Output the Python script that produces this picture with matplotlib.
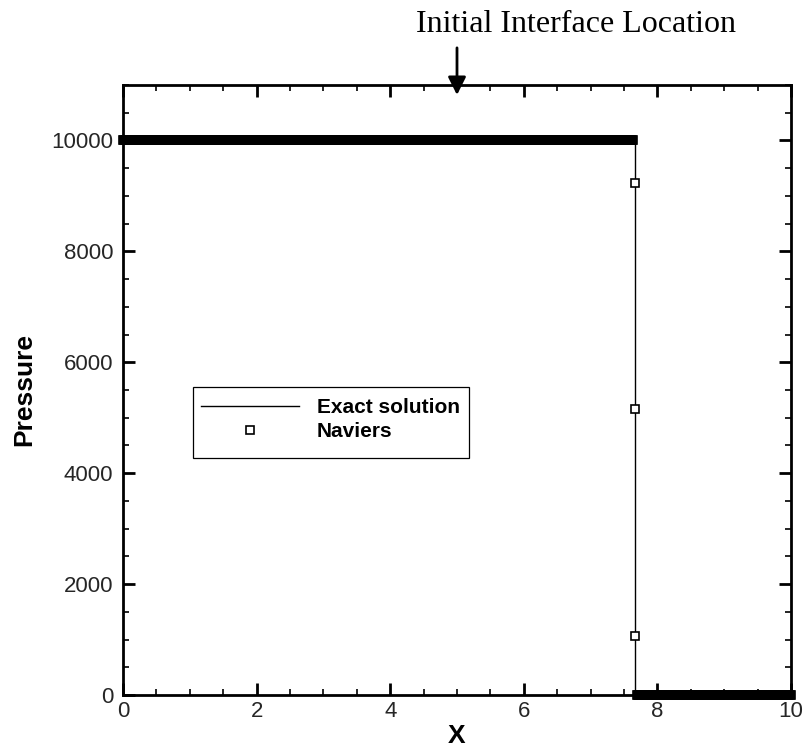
import numpy as np
import matplotlib
matplotlib.use("Agg")
import matplotlib.pyplot as plt
from matplotlib.ticker import MultipleLocator
from matplotlib.patches import Rectangle
from matplotlib.lines import Line2D

# ---- data -------------------------------------------------------------
# exact Riemann solution: high-pressure state on the left, zero on the right
exact_x = [0.0, 7.66, 7.66, 10.0]
exact_p = [10000.0, 10000.0, 0.0, 0.0]

# Naviers solution on the (moving) mesh
naviers_left_x = np.linspace(0.0, 7.64, 383)
naviers_left_p = np.full(naviers_left_x.size, 10000.0)
naviers_jump_x = [7.67, 7.67, 7.67]
naviers_jump_p = [9240.0, 5150.0, 1070.0]
naviers_right_x = np.linspace(7.69, 10.0, 116)
naviers_right_p = np.full(naviers_right_x.size, 0.0)

x_ticks = [0, 2, 4, 6, 8, 10]
y_ticks = [0, 2000, 4000, 6000, 8000, 10000]
interface_x0 = 5.0

plateau_x = np.concatenate([naviers_left_x, naviers_right_x])
plateau_p = np.concatenate([naviers_left_p, naviers_right_p])

# ---- figure -----------------------------------------------------------
W, H = 808, 755
fig = plt.figure(figsize=(W / 100, H / 100), dpi=100)
ax = fig.add_axes([123 / W, (H - 695) / H, 668 / W, 610 / H])

marker_style = dict(ls="none", marker="s", ms=5.2, mew=1.2, mec="black")

ax.plot(exact_x, exact_p, color="black", lw=1.0, zorder=3,
        label="Exact solution", clip_on=False)
# densely packed mesh points merge into a solid band
ax.plot(plateau_x, plateau_p, mfc="black", zorder=4, clip_on=False,
        **marker_style)
ax.plot(naviers_jump_x, naviers_jump_p, mfc="white", zorder=4,
        clip_on=False, label="Naviers", **marker_style)

ax.set_xlim(0, 10)
ax.set_ylim(0, 11000)
ax.set_xticks(x_ticks)
ax.set_yticks(y_ticks)
ax.xaxis.set_minor_locator(MultipleLocator(0.5))
ax.yaxis.set_minor_locator(MultipleLocator(500))
ax.tick_params(which="both", direction="in", top=True, right=True,
               colors="black")
ax.tick_params(which="major", length=8.5, width=2.0)
ax.tick_params(which="minor", length=4.3, width=1.2)
ax.tick_params(axis="x", which="major", pad=4)
ax.tick_params(axis="y", which="major", pad=7)
for lab in ax.get_xticklabels() + ax.get_yticklabels():
    lab.set_fontfamily("Liberation Sans")
    lab.set_fontsize(16)
    lab.set_color("#262626")
for sp in ax.spines.values():
    sp.set_linewidth(2.0)
    sp.set_zorder(5)

label_font = dict(family="Liberation Sans", size=19, weight="bold")
ax.set_xlabel("X", va="center", **label_font)
ax.xaxis.set_label_coords(0.5, -0.067)
ax.set_ylabel("Pressure", va="center", **label_font)
ax.yaxis.set_label_coords(-0.148, 0.5)

# legend with its own frame
handles = [
    Line2D([], [], color="black", lw=1.0),
    Line2D([], [], mfc="white", **marker_style),
]
leg = ax.legend(handles, ["Exact solution", "Naviers"],
                loc="upper left", bbox_to_anchor=((201 - 123) / 668, (695 - 398) / 610),
                borderaxespad=0, borderpad=0, frameon=False,
                handlelength=4.7, handletextpad=0.85, labelspacing=0.25,
                prop=dict(family="Liberation Sans", size=15, weight="bold"))
ax.add_patch(Rectangle(((193 - 123) / 668, (695 - 458) / 610),
                       (469 - 193) / 668, (458 - 387) / 610,
                       transform=ax.transAxes, fill=False,
                       edgecolor="black", lw=0.9, zorder=6))

# initial interface marker above the frame
ax.annotate("", xy=(interface_x0, 10820), xytext=(interface_x0, 11670),
            xycoords="data", textcoords="data", annotation_clip=False,
            arrowprops=dict(arrowstyle="-|>,head_length=1.08,head_width=0.54",
                            mutation_scale=10, lw=2.0, color="black",
                            shrinkA=0, shrinkB=0))
fig.text(576.5 / W, 1 - 32 / H, "Initial Interface Location",
         family="Liberation Serif", size=23, ha="center", va="baseline")

fig.savefig("out.png", dpi=100)
